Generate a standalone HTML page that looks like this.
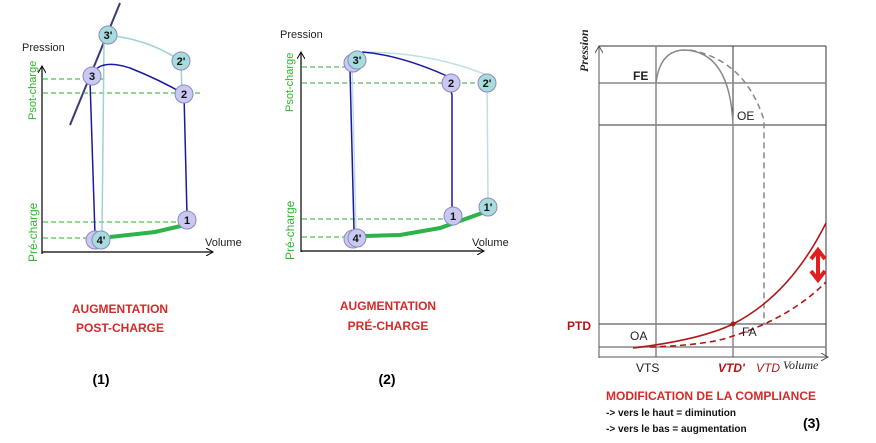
<!DOCTYPE html>
<html><head><meta charset="utf-8"><style>
html,body{margin:0;padding:0;background:#fff;}
svg{display:block;}
text{font-family:"Liberation Sans",sans-serif;}
</style></head><body>
<svg width="876" height="443" viewBox="0 0 876 443" xmlns="http://www.w3.org/2000/svg">
<defs>
<marker id="ar" markerWidth="8" markerHeight="8" refX="7" refY="4" orient="auto" markerUnits="userSpaceOnUse"><path d="M0,0 L7,4 L0,8" fill="none" stroke="#000" stroke-width="1"/></marker>
<marker id="ag" markerWidth="8" markerHeight="8" refX="7" refY="4" orient="auto" markerUnits="userSpaceOnUse"><path d="M0,0 L7,4 L0,8" fill="none" stroke="#555" stroke-width="1"/></marker>
</defs>

<!-- PANEL 1 -->
<line x1="70" y1="125" x2="120" y2="3" stroke="#3a3a7a" stroke-width="2"/>
<g stroke="#2fa82f" stroke-width="1" stroke-dasharray="5,3">
<line x1="43" y1="79" x2="105" y2="79"/><line x1="43" y1="93" x2="203" y2="93"/>
<line x1="43" y1="222" x2="180" y2="222"/><line x1="43" y1="238" x2="95" y2="238"/>
</g>
<path d="M42,254 L42,66" stroke="#000" stroke-width="1.2" fill="none" marker-end="url(#ar)"/>
<path d="M42,252 L213,252" stroke="#000" stroke-width="1.2" fill="none" marker-end="url(#ar)"/>
<path d="M108,35 Q150,40 181,61 L182,94" stroke="#9fd3d3" stroke-width="1.5" fill="none"/>
<path d="M104,42 L102,235" stroke="#9fd3d3" stroke-width="1.5" fill="none"/>
<path d="M92,76 Q98,58 130,68 Q160,80 184,94 L187,215" stroke="#1a1aa0" stroke-width="1.5" fill="none"/>
<path d="M90,80 L95,235" stroke="#1a1aa0" stroke-width="1.5" fill="none"/>
<path d="M110,237 L155,232 L185,225" stroke="#2db34a" stroke-width="4" fill="none"/>
<g stroke="#8a8ac0" stroke-width="1" font-size="11" font-weight="bold" text-anchor="middle">
<circle cx="95" cy="240" r="9" fill="#c8c8f0"/>
<circle cx="101" cy="240" r="9" fill="#a8dcdc"/>
<circle cx="187" cy="220" r="9" fill="#c8c8f0"/>
<circle cx="184" cy="94" r="9" fill="#c8c8f0"/>
<circle cx="92" cy="76" r="9" fill="#c8c8f0"/>
<circle cx="108" cy="35" r="9" fill="#a8dcdc"/>
<circle cx="181" cy="61" r="9" fill="#a8dcdc"/>
</g>
<g font-size="11" font-weight="bold" text-anchor="middle" fill="#111">
<text x="101" y="244">4'</text><text x="187" y="224">1</text><text x="184" y="98">2</text>
<text x="92" y="80">3</text><text x="108" y="39">3'</text><text x="181" y="65">2'</text>
</g>
<text x="22" y="51" font-size="11" fill="#222">Pression</text>
<text x="205" y="246" font-size="11" fill="#222">Volume</text>
<text transform="translate(36,120) rotate(-90)" font-size="11" fill="#2fb52f">Psot-charge</text>
<text transform="translate(37,262) rotate(-90)" font-size="12" fill="#2fb52f">Pré-charge</text>
<text x="120" y="313" font-size="12" font-weight="bold" fill="#d42a2a" text-anchor="middle">AUGMENTATION</text>
<text x="120" y="332" font-size="12" font-weight="bold" fill="#d42a2a" text-anchor="middle">POST-CHARGE</text>
<text x="101" y="384" font-size="14" font-weight="bold" fill="#000" text-anchor="middle">(1)</text>

<!-- PANEL 2 -->
<g stroke="#2fa82f" stroke-width="1" stroke-dasharray="5,3">
<line x1="302" y1="67" x2="345" y2="67"/><line x1="302" y1="83" x2="478" y2="83"/>
<line x1="302" y1="219" x2="447" y2="219"/><line x1="302" y1="237" x2="348" y2="237"/>
</g>
<path d="M301,252 L301,52" stroke="#000" stroke-width="1.2" fill="none" marker-end="url(#ar)"/>
<path d="M301,251 L484,251" stroke="#000" stroke-width="1.2" fill="none" marker-end="url(#ar)"/>
<path d="M362,52 Q430,52 487,75 L488,200" stroke="#bfe0e0" stroke-width="1.5" fill="none"/>
<path d="M352,65 L356,230" stroke="#bfe0e0" stroke-width="1.5" fill="none"/>
<path d="M362,52 Q400,55 447,76 L452,95 L452,210" stroke="#1a1aa0" stroke-width="1.5" fill="none"/>
<path d="M350,70 L354,230" stroke="#1a1aa0" stroke-width="1.5" fill="none"/>
<path d="M365,236 L400,235 L440,228 L485,212" stroke="#2db34a" stroke-width="4" fill="none"/>
<g stroke="#8a8ac0" stroke-width="1">
<circle cx="353" cy="239" r="9" fill="#c8c8f0"/>
<circle cx="357" cy="238" r="9" fill="#c8c8f0"/>
<circle cx="353" cy="63" r="9" fill="#c8c8f0"/>
<circle cx="357" cy="60" r="9" fill="#a8dcdc"/>
<circle cx="451" cy="83" r="9" fill="#c8c8f0"/>
<circle cx="487" cy="83" r="9" fill="#a8dcdc"/>
<circle cx="453" cy="216" r="9" fill="#c8c8f0"/>
<circle cx="488" cy="207" r="9" fill="#a8dcdc"/>
</g>
<g font-size="11" font-weight="bold" text-anchor="middle" fill="#111">
<text x="357" y="242">4'</text><text x="357" y="64">3'</text><text x="451" y="87">2</text>
<text x="487" y="87">2'</text><text x="453" y="220">1</text><text x="488" y="211">1'</text>
</g>
<text x="280" y="38" font-size="11" fill="#222">Pression</text>
<text x="472" y="246" font-size="11" fill="#222">Volume</text>
<text transform="translate(293,112) rotate(-90)" font-size="11" fill="#2fb52f">Psot-charge</text>
<text transform="translate(294,260) rotate(-90)" font-size="12" fill="#2fb52f">Pré-charge</text>
<text x="388" y="310" font-size="12" font-weight="bold" fill="#d42a2a" text-anchor="middle">AUGMENTATION</text>
<text x="388" y="330" font-size="12" font-weight="bold" fill="#d42a2a" text-anchor="middle">PRÉ-CHARGE</text>
<text x="387" y="384" font-size="14" font-weight="bold" fill="#000" text-anchor="middle">(2)</text>

<!-- PANEL 3 -->
<g stroke="#333" stroke-width="1" fill="none">
<line x1="599" y1="46" x2="826" y2="46"/>
<line x1="826" y1="46" x2="826" y2="357"/>
<line x1="599" y1="125" x2="826" y2="125"/>
<line x1="599" y1="324" x2="826" y2="324"/>
<line x1="733" y1="46" x2="733" y2="125"/>
</g>
<g stroke="#888" stroke-width="1.5" fill="none">
<line x1="599" y1="83" x2="826" y2="83"/>
<line x1="599" y1="347" x2="826" y2="347"/>
<line x1="656" y1="46" x2="656" y2="357"/>
<line x1="733" y1="125" x2="733" y2="357"/>
<path d="M656,83 Q660,50 685,50 Q730,52 733,125"/>
<path d="M690,50 Q745,60 764,120 L764,324" stroke-dasharray="6,4"/>
</g>
<path d="M599,358 L599,46" stroke="#555" stroke-width="1" fill="none" marker-end="url(#ag)"/>
<path d="M599,357 L828,357" stroke="#555" stroke-width="1" fill="none" marker-end="url(#ag)"/>
<path d="M633,348 Q700,340 733,324 Q790,295 826,223" stroke="#b01818" stroke-width="1.6" fill="none"/>
<path d="M650,347 Q710,345 733,336 Q790,318 826,282" stroke="#b01818" stroke-width="1.6" fill="none" stroke-dasharray="6,4"/>
<circle cx="733" cy="324" r="2.5" fill="#b01818"/>
<g stroke="#e02020" stroke-width="4" fill="none">
<line x1="818" y1="252" x2="818" y2="278"/>
<path d="M811,259 L818,250 L825,259"/>
<path d="M811,271 L818,280 L825,271"/>
</g>
<text transform="translate(588,72) rotate(-90)" font-size="12" font-style="italic" font-weight="bold" font-family="Liberation Serif,serif" fill="#222" style="font-family:'Liberation Serif',serif">Pression</text>
<text x="633" y="80" font-size="12" font-weight="bold" fill="#222">FE</text>
<text x="737" y="120" font-size="12" fill="#222">OE</text>
<text x="567" y="330" font-size="12" font-weight="bold" fill="#b01818">PTD</text>
<text x="630" y="340" font-size="12" fill="#222">OA</text>
<text x="742" y="336" font-size="12" fill="#222">FA</text>
<text x="636" y="372" font-size="12" fill="#222">VTS</text>
<text x="718" y="372" font-size="12" font-weight="bold" font-style="italic" fill="#b01818">VTD'</text>
<text x="756" y="372" font-size="12" font-style="italic" fill="#b01818">VTD</text>
<text x="783" y="369" font-size="12" font-style="italic" style="font-family:'Liberation Serif',serif" fill="#222">Volume</text>
<text x="606" y="400" font-size="12" font-weight="bold" fill="#d42a2a">MODIFICATION DE LA COMPLIANCE</text>
<text x="606" y="416" font-size="10" font-weight="bold" fill="#111">-&gt; vers le haut = diminution</text>
<text x="606" y="432" font-size="10" font-weight="bold" fill="#111">-&gt; vers le bas = augmentation</text>
<text x="803" y="428" font-size="14" font-weight="bold" fill="#000">(3)</text>
</svg>
</body></html>
